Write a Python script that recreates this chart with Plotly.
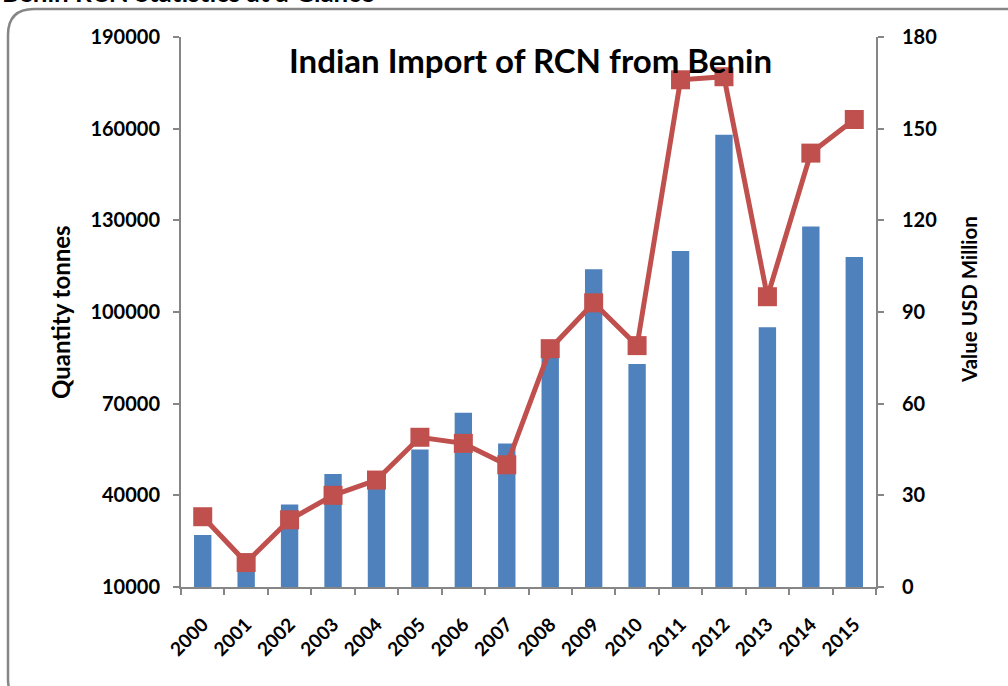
import plotly.graph_objects as go

years = [str(y) for y in range(2000, 2016)]
quantity_tonnes = [27000, 15000, 37000, 47000, 43000, 55000, 67000, 57000,
                   87000, 114000, 83000, 120000, 158000, 95000, 128000, 118000]
value_usd_million = [23, 8, 22, 30, 35, 49, 47, 40, 78, 93, 79, 166, 167, 95, 142, 153]

left_ticks = [10000, 40000, 70000, 100000, 130000, 160000, 190000]
right_ticks = [0, 30, 60, 90, 120, 150, 180]

W, H = 1008, 686
L, R, T, B = 181, 876, 37, 587
FONT = "Lato"
GRAY = "#868686"


def px(x):
    return (x - L) / (R - L)


def py(y):
    return (B - y) / (B - T)


fig = go.Figure()
fig.add_trace(go.Bar(x=years, y=quantity_tonnes, marker_color="#4F81BD",
                     marker_line_width=0, name="Quantity", yaxis="y"))
fig.add_trace(go.Scatter(x=years, y=value_usd_million, mode="lines+markers",
                         line=dict(color="#C0504D", width=5),
                         marker=dict(symbol="square", size=19, color="#C0504D"),
                         name="Value", yaxis="y2", cliponaxis=False))

# rounded border
x0, y0, x1, y1, r = 8, 9, 1040, 705, 26
path = (f"M {px(x0)},{py(y0 + r)} Q {px(x0)},{py(y0)} {px(x0 + r)},{py(y0)} "
        f"L {px(x1 - r)},{py(y0)} Q {px(x1)},{py(y0)} {px(x1)},{py(y0 + r)} "
        f"L {px(x1)},{py(y1 - r)} Q {px(x1)},{py(y1)} {px(x1 - r)},{py(y1)} "
        f"L {px(x0 + r)},{py(y1)} Q {px(x0)},{py(y1)} {px(x0)},{py(y1 - r)} Z")
fig.add_shape(type="path", path=path, xref="paper", yref="paper",
              line=dict(color=GRAY, width=2.5), layer="below")

tick_font = dict(family=FONT, size=20, color="black", weight="bold")

fig.update_layout(
    width=W, height=H,
    margin=dict(l=L, r=W - R, t=T, b=H - B),
    paper_bgcolor="white", plot_bgcolor="white",
    showlegend=False, bargap=0.6,
    font=dict(family=FONT, color="black"),
    xaxis=dict(type="category", range=[-0.5, len(years) - 0.5], showline=True,
               linecolor=GRAY, linewidth=2,
               ticks="outside", tickson="boundaries", ticklen=6, tickcolor=GRAY,
               tickwidth=2, tickangle=-45, ticklabelstandoff=17,
               tickfont=dict(family=FONT, size=19, color="black", weight="bold"),
               showgrid=False),
    yaxis=dict(range=[10000, 190000], tickvals=left_ticks,
               ticktext=[str(v) for v in left_ticks], showline=True,
               linecolor=GRAY, linewidth=2, ticks="outside", ticklen=6,
               tickcolor=GRAY, tickwidth=2, showgrid=False, zeroline=False,
               ticklabelstandoff=9, tickfont=tick_font),
    yaxis2=dict(range=[0, 180], tickvals=right_ticks,
                ticktext=[str(v) for v in right_ticks], overlaying="y", side="right",
                showline=True, linecolor=GRAY, linewidth=2, ticks="outside",
                ticklen=6, tickcolor=GRAY, tickwidth=2, showgrid=False, zeroline=False,
                ticklabelstandoff=14, tickfont=tick_font),
    annotations=[
        dict(text="<b>Indian Import of RCN from Benin</b>", xref="paper", yref="paper",
             x=px(530), y=py(60), xanchor="center", yanchor="middle", showarrow=False,
             font=dict(family=FONT, size=33, color="black")),
        dict(text="<b>Benin RCN Statistics at a Glance</b>", xref="paper", yref="paper",
             x=px(0), y=py(-8), xanchor="left", yanchor="middle", showarrow=False,
             font=dict(family=FONT, size=26, color="black")),
        dict(text="<b>Quantity tonnes</b>", xref="paper", yref="paper",
             x=px(60), y=py(312), xanchor="center", yanchor="middle", showarrow=False,
             textangle=-90, font=dict(family=FONT, size=24, color="black")),
        dict(text="<b>Value USD Million</b>", xref="paper", yref="paper",
             x=px(969), y=py(300), xanchor="center", yanchor="middle", showarrow=False,
             textangle=-90, font=dict(family=FONT, size=20.5, color="black")),
    ],
)

fig.write_html("out.html", config={"displayModeBar": False},
               post_script="document.body.style.margin='0';")
